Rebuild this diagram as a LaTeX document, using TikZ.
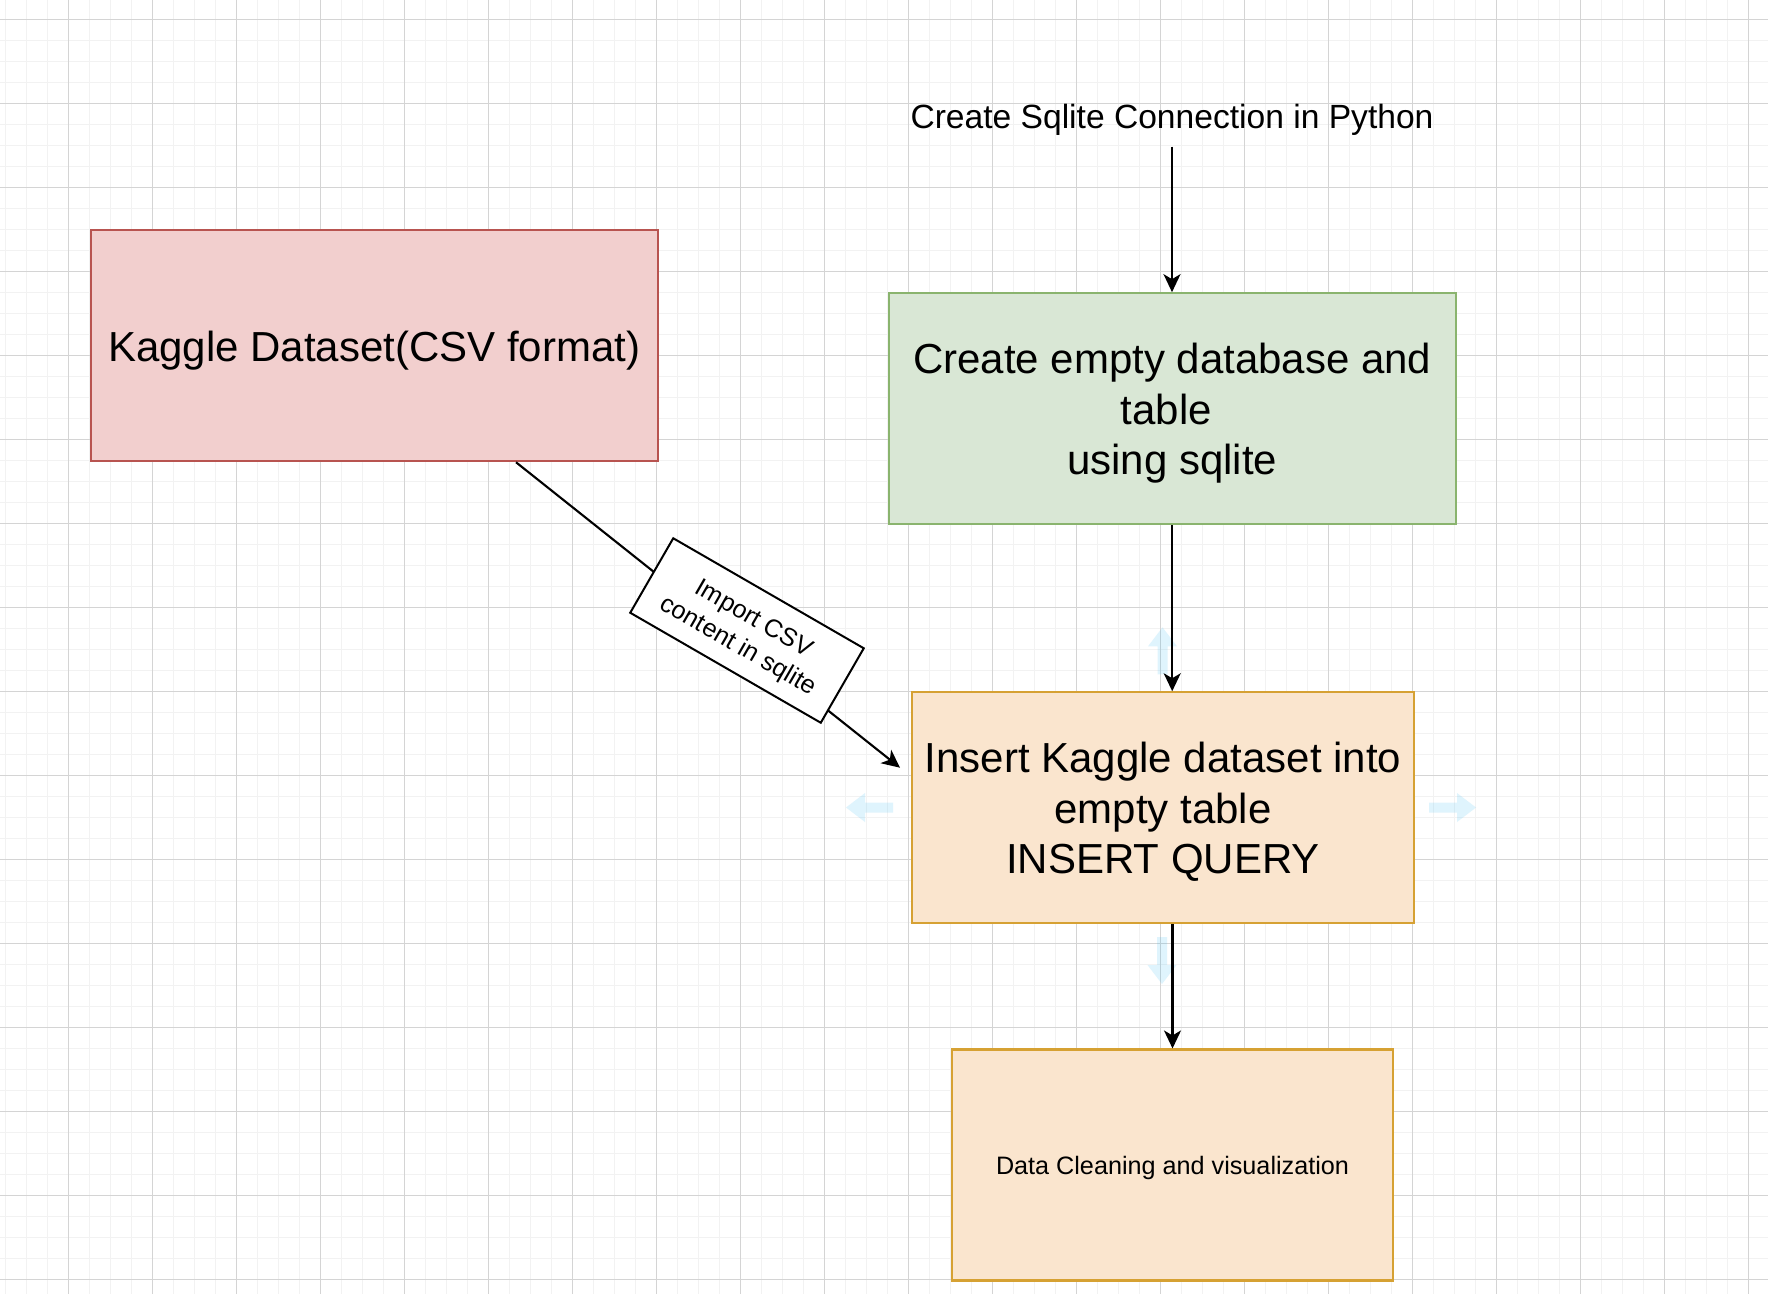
\documentclass[tikz,border=0pt]{standalone}
\usepackage{fontspec}
\setmainfont{Liberation Sans}
\usetikzlibrary{arrows.meta}
\definecolor{redfill}{HTML}{F2CFCE}
\definecolor{redline}{HTML}{B85450}
\definecolor{greenfill}{HTML}{D9E7D5}
\definecolor{greenline}{HTML}{8AB46E}
\definecolor{orangefill}{HTML}{FAE5CE}
\definecolor{orangeline}{HTML}{D6A133}
\definecolor{minorgrid}{HTML}{F2F2F2}
\definecolor{majorgrid}{HTML}{D4D4D4}
\definecolor{hoverblue}{HTML}{29B6F2}
\newcommand\ls{\rule[-0.235em]{0pt}{1.2em}}
\newcommand\hoverarrow[2]{%
  \fill[hover, shift={#1}, rotate=#2] (0,0) -- (-19,-14.5) -- (-19,-5) -- (-47,-5) -- (-47,5) -- (-19,5) -- (-19,14.5) -- cycle;}
\begin{document}
\begin{tikzpicture}[x=1pt,y=-1pt,
  minorline/.style={draw=minorgrid, line width=1.3pt},
  majorline/.style={draw=majorgrid, line width=1.2pt},
  hover/.style={fill=hoverblue, fill opacity=0.15},
  box/.style={draw, line width=2.1pt, inner sep=2pt, align=center,
    minimum height=231pt, font=\fontsize{42}{50.4}\selectfont},
  conn/.style={draw=black, line width=2.1pt, -{Stealth[length=18pt,width=17pt,inset=5pt]}},
  lbl/.style={draw=black, fill=white, line width=2pt, align=center,
    minimum width=220pt, minimum height=86pt, inner sep=0pt,
    font=\fontsize{25.2}{30.2}\selectfont}]
\useasboundingbox (0,0) rectangle (1768,1294);
\fill[white] (0,0) rectangle (1768,1294);
% grid
\foreach \i in {0,...,83} { \draw[minorline] ({5.7+21*\i},0) -- ({5.7+21*\i},1294); }
\foreach \j in {0,...,60} { \draw[minorline] (0,{19.3+21*\j}) -- (1768,{19.3+21*\j}); }
\foreach \i in {0,...,20} { \draw[majorline] ({68.7+84*\i},0) -- ({68.7+84*\i},1294); }
\foreach \j in {0,...,15} { \draw[majorline] (0,{19.3+84*\j}) -- (1768,{19.3+84*\j}); }
% hover arrows
\hoverarrow{(846,807.5)}{180}
\hoverarrow{(1476,807.5)}{0}
\hoverarrow{(1162.5,627.3)}{90}
\hoverarrow{(1162,984)}{-90}
% boxes
\node[box, fill=redfill, draw=redline, minimum width=567pt] (kaggle) at (374.2,345.7) {\ls Kaggle Dataset(CSV format)};
\node[box, fill=greenfill, draw=greenline, minimum width=567pt] (green) at (1172.2,408.7)
  {\ls Create empty database and\\\ls table\rule{0.28em}{0pt}\\\ls using sqlite};
\node[box, fill=orangefill, draw=orangeline, minimum width=502.5pt] (insert) at (1163,807.8)
  {\ls Insert Kaggle dataset into\\\ls empty table\\\ls INSERT QUERY};
\node[box, fill=orangefill, draw=orangeline, minimum width=441.6pt,
  font=\fontsize{25.2}{30.2}\selectfont] (clean) at (1172.5,1165) {\ls Data Cleaning and visualization};
\node[inner sep=0pt, minimum height=61pt, font=\fontsize{33.6}{40}\selectfont] (title) at (1172,116)
  {\ls Create Sqlite Connection in Python};
% connectors
\draw[conn] (title.south) -- (title.south |- green.north);
\draw[conn] (green.south) -- (green.south |- insert.north);
\draw[conn] (clean.north |- insert.south) -- (clean.north);
\coordinate (tip) at (900,767.7);
\draw[conn] ([xshift=141.8pt]kaggle.south) -- (tip);
\node[lbl, rotate=-30] (import) at (747,630.5) {\ls Import CSV\\\ls content in sqlite};
\end{tikzpicture}
\end{document}
